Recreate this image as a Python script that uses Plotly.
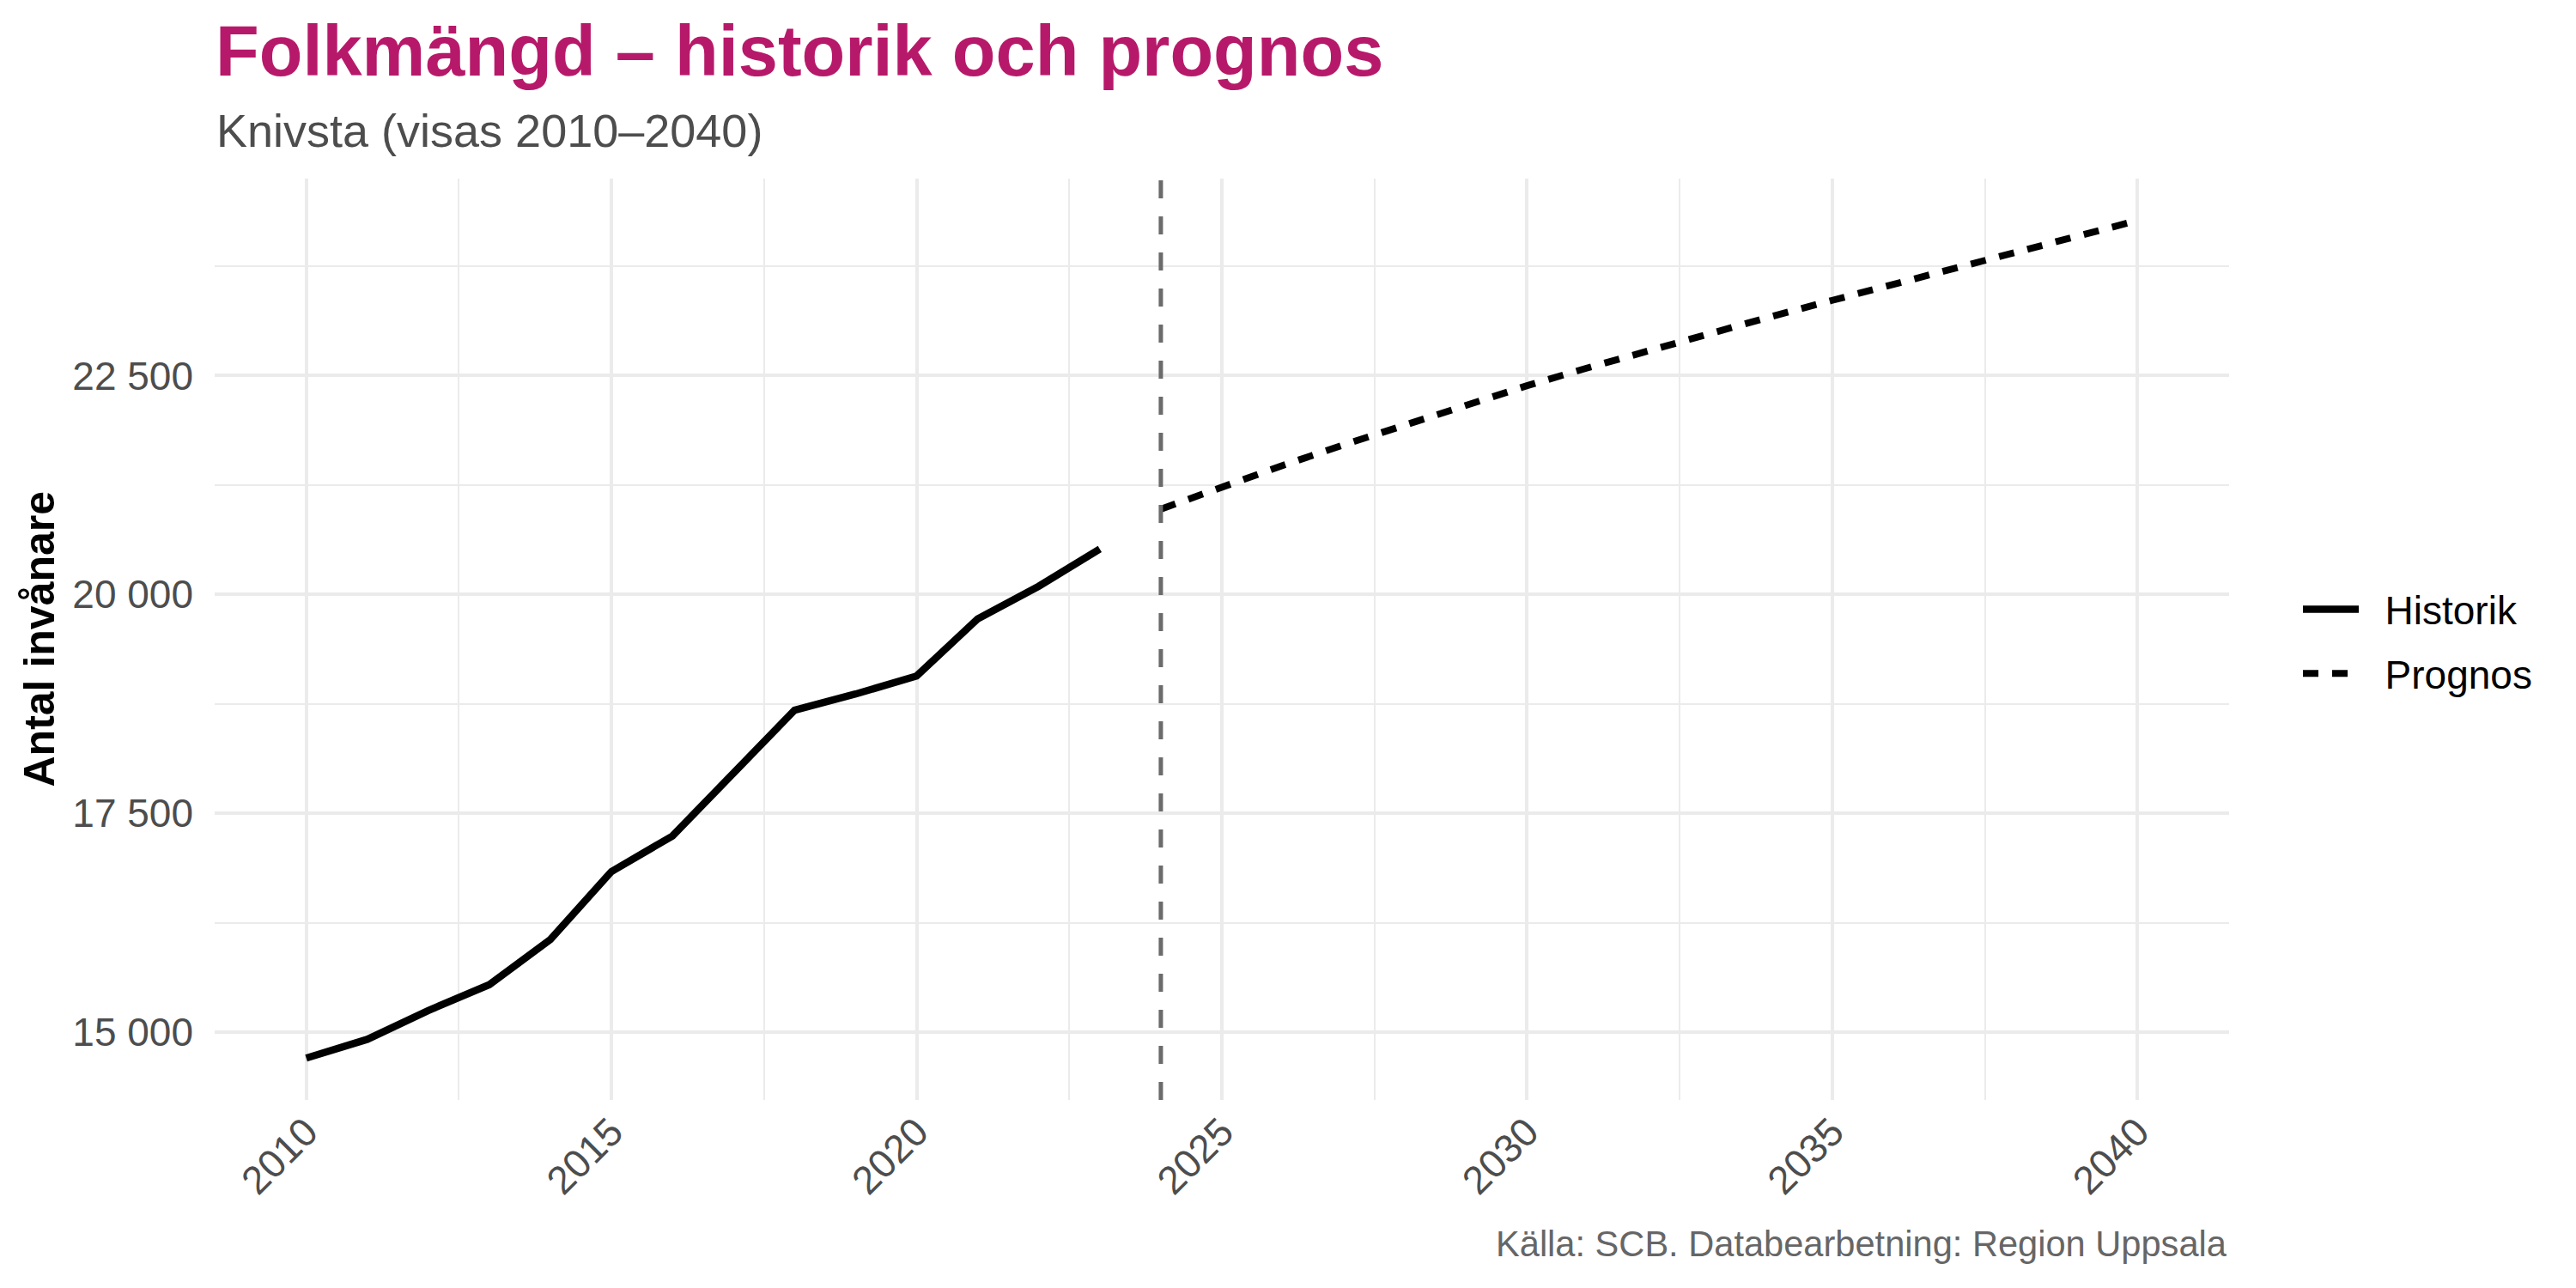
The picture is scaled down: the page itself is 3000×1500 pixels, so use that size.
import plotly.graph_objects as go

# ---- data ----
hist_years = list(range(2010, 2024))
hist_values = [14704, 14918, 15247, 15543, 16059, 16835, 17241, 17949,
               18678, 18863, 19069, 19722, 20094, 20520]

prog_years = list(range(2024, 2041))
prog_values = [20975, 21230, 21475, 21710, 21940, 22165, 22385, 22590, 22790,
               22985, 23175, 23360, 23545, 23730, 23910, 24090, 24272]

forecast_start = 2024

x_ticks = [2010, 2015, 2020, 2025, 2030, 2035, 2040]
x_minor = [2012.5, 2017.5, 2022.5, 2027.5, 2032.5, 2037.5]
y_ticks = [15000, 17500, 20000, 22500]
y_ticklabels = ["15 000", "17 500", "20 000", "22 500"]
y_minor = [16250, 18750, 21250, 23750]

series_names = ["Historik", "Prognos"]
title_text = "Folkmängd – historik och prognos"
subtitle_text = "Knivsta (visas 2010–2040)"
caption_text = "Källa: SCB. Databearbetning: Region Uppsala"
y_title = "Antal invånare"

# ---- style ----
FONT = "Liberation Sans, Arial, sans-serif"
GRID = "#EBEBEB"
TITLE_COL = "#B7196A"
ML, MR, MT, MB = 250, 404, 208, 219
W, H = 3000, 1500

all_y = hist_values + prog_values
ymin, ymax = min(all_y), max(all_y)
ypad = (ymax - ymin) * 0.05
all_x = hist_years + prog_years
xmin, xmax = min(all_x), max(all_x)
xpad = (xmax - xmin) * 0.05

NB = "\u00a0\u00a0"

fig = go.Figure()
fig.add_trace(go.Scatter(
    x=hist_years, y=hist_values, mode="lines", name=NB + series_names[0],
    line=dict(color="black", width=8.5), legendgroup="h",
))
fig.add_trace(go.Scatter(
    x=prog_years, y=prog_values, mode="lines", name=NB + series_names[1],
    line=dict(color="black", width=8, dash="18px,16px"), legendgroup="p",
))

fig.add_vline(x=forecast_start, line=dict(color="#6B6B6B", width=5, dash="21px,21px"))

plot_h = H - MT - MB
plot_w = W - ML - MR


def py(px_from_top):
    return 1 + (MT - px_from_top) / plot_h


def px(px_from_left):
    return (px_from_left - ML) / plot_w


fig.update_layout(
    width=W, height=H,
    margin=dict(l=ML, r=MR, t=MT, b=MB, autoexpand=False),
    paper_bgcolor="white", plot_bgcolor="white",
    font=dict(family=FONT, color="#4D4D4D"),
    showlegend=True,
    legend=dict(
        x=px(2677), y=py(747), xanchor="left", yanchor="middle",
        font=dict(size=46, color="black", family=FONT),
        itemwidth=65, tracegroupgap=12, bgcolor="rgba(0,0,0,0)",
    ),
)

fig.update_xaxes(
    range=[xmin - xpad, xmax + xpad],
    tickmode="array", tickvals=x_ticks,
    tickangle=-45, tickfont=dict(size=46, color="#4D4D4D"),
    showgrid=True, gridcolor=GRID, gridwidth=4.4,
    zeroline=False, showline=False, ticks="", automargin=False,
    minor=dict(tickvals=x_minor, showgrid=True, gridcolor=GRID, gridwidth=2.4),
)
fig.update_yaxes(
    range=[ymin - ypad, ymax + ypad],
    tickmode="array", tickvals=y_ticks, ticktext=y_ticklabels,
    tickfont=dict(size=46, color="#4D4D4D"),
    showgrid=True, gridcolor=GRID, gridwidth=4.4,
    zeroline=False, showline=False, ticks="", automargin=False,
    ticklabelstandoff=24,
    minor=dict(tickvals=y_minor, showgrid=True, gridcolor=GRID, gridwidth=2.4),
)

fig.add_annotation(text=f"<b>{title_text}</b>", xref="paper", yref="paper",
                   x=px(249), y=py(60), xanchor="left", yanchor="middle",
                   showarrow=False, font=dict(size=83, color=TITLE_COL, family=FONT))
fig.add_annotation(text=subtitle_text, xref="paper", yref="paper",
                   x=px(250), y=py(152), xanchor="left", yanchor="middle",
                   showarrow=False, font=dict(size=54, color="#4D4D4D", family=FONT))
fig.add_annotation(text=f"<b>{y_title}</b>", xref="paper", yref="paper",
                   x=px(45), y=0.5, xanchor="center", yanchor="middle", textangle=-90,
                   showarrow=False, font=dict(size=50, color="black", family=FONT))
fig.add_annotation(text=caption_text, xref="paper", yref="paper",
                   x=1, y=py(1448), xanchor="right", yanchor="middle",
                   showarrow=False, font=dict(size=41.6, color="#666666", family=FONT))

fig.write_html("out.html", config={"displayModeBar": False},
               post_script="document.body.style.margin='0';")
